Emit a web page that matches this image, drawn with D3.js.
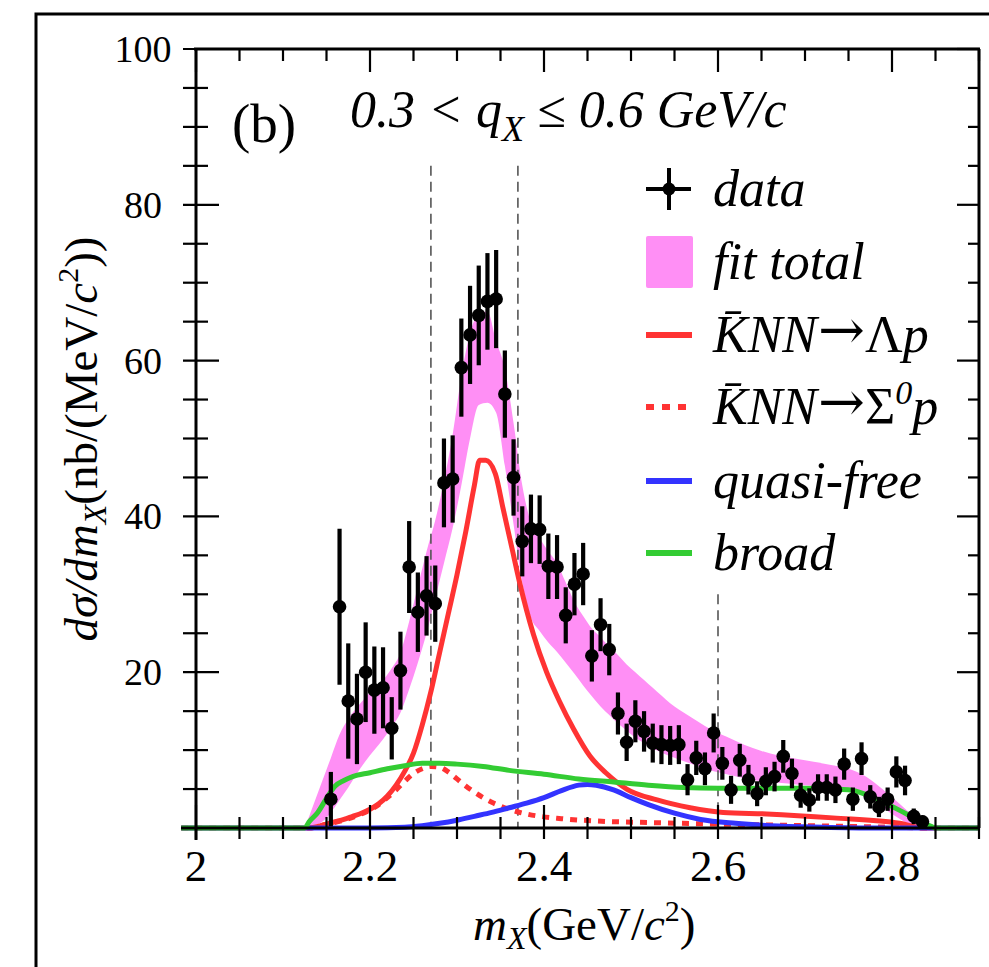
<!DOCTYPE html>
<html>
<head>
<meta charset="utf-8">
<script src="https://cdn.jsdelivr.net/npm/d3@7/dist/d3.min.js"></script>
<style>
  html, body { margin: 0; padding: 0; background: #fff; }
  svg { display: block; }
  text { font-family: "Liberation Serif", "Times New Roman", serif; fill: #000; }
</style>
</head>
<body>
<script>
// data points (bin centres, values, errors)
var dataX = [2.155, 2.165, 2.175, 2.185, 2.195, 2.205, 2.215, 2.225, 2.235, 2.245,
             2.255, 2.265, 2.275, 2.285, 2.295, 2.305, 2.315, 2.325, 2.335, 2.345,
             2.355, 2.365, 2.375, 2.385, 2.395, 2.405, 2.415, 2.425, 2.435, 2.445,
             2.455, 2.465, 2.475, 2.485, 2.495, 2.505, 2.515, 2.525, 2.535, 2.545,
             2.555, 2.565, 2.575, 2.585, 2.595, 2.605, 2.615, 2.625, 2.635, 2.645,
             2.655, 2.665, 2.675, 2.685, 2.695, 2.705, 2.715, 2.725, 2.735, 2.745,
             2.755, 2.765, 2.775, 2.785, 2.795, 2.805, 2.815, 2.825, 2.835];
var dataY = [3.7, 28.4, 16.3, 14.0, 20.0, 17.7, 18.0, 12.8, 20.2, 33.5,
             27.7, 29.8, 28.8, 44.3, 44.8, 59.1, 63.3, 65.8, 67.6, 67.9,
             55.7, 45.0, 36.8, 38.4, 38.3, 33.6, 33.5, 27.3, 31.3, 32.6,
             22.1, 26.1, 22.9, 14.7, 11.0, 13.7, 12.4, 10.9, 10.7, 10.6,
             10.7, 6.2, 9.0, 7.6, 12.2, 8.3, 4.9, 8.7, 6.2, 4.4,
             6.0, 6.6, 9.2, 7.0, 4.2, 3.6, 5.2, 5.2, 4.9, 8.2,
             3.7, 8.9, 4.0, 2.7, 3.7, 7.2, 6.1, 1.5, 0.8];
var dataErr = [3.5, 10.0, 7.4, 5.8, 6.4, 5.6, 5.2, 4.0, 5.0, 5.9,
               5.1, 5.1, 4.9, 5.7, 5.6, 6.3, 6.3, 6.4, 6.2, 6.3,
               5.6, 4.9, 4.5, 4.4, 4.4, 4.2, 4.1, 3.6, 4.0, 4.0,
               3.3, 3.4, 3.3, 2.7, 2.4, 2.7, 2.6, 2.5, 2.5, 2.5,
               2.5, 2.0, 2.2, 2.1, 2.5, 2.1, 1.8, 2.1, 1.9, 1.6,
               1.8, 1.9, 2.1, 1.9, 1.6, 1.5, 1.7, 1.7, 1.7, 2.0,
               1.5, 2.1, 1.5, 1.3, 1.5, 2.0, 1.9, 1.0, 0.8];

// fit total band
var bandX  = [2.125, 2.135, 2.145, 2.155, 2.165, 2.175, 2.185, 2.195, 2.205, 2.215,
              2.225, 2.235, 2.245, 2.255, 2.265, 2.275, 2.285, 2.295, 2.305, 2.315,
              2.325, 2.335, 2.345, 2.355, 2.365, 2.375, 2.385, 2.395, 2.405, 2.415,
              2.425, 2.435, 2.445, 2.455, 2.465, 2.475, 2.485, 2.495, 2.505, 2.515,
              2.525, 2.535, 2.545, 2.555, 2.565, 2.575, 2.585, 2.595, 2.61, 2.63,
              2.65, 2.67, 2.69, 2.71, 2.73, 2.75, 2.76, 2.77, 2.78, 2.79,
              2.8, 2.81, 2.82, 2.83, 2.84, 2.845];
var bandLo = [0, 0.3, 0.8, 2.0, 3.6, 5.2, 7.0, 8.6, 10.0, 11.4,
              13.0, 14.8, 17.8, 21.2, 25.0, 29.5, 34.0, 38.5, 44.0, 50.0,
              54.3, 54.6, 53.3, 46.5, 39.0, 31.5, 27.0, 25.3, 23.8, 22.6,
              21.2, 19.8, 18.3, 16.9, 15.6, 14.5, 13.4, 12.5, 11.6, 10.9,
              10.2, 9.7, 9.2, 8.8, 8.4, 8.0, 7.6, 7.3, 6.9, 6.4,
              6.0, 5.8, 5.6, 5.4, 5.2, 5.0, 4.7, 4.2, 3.4, 2.6,
              1.8, 1.1, 0.5, 0.2, 0, 0];
var bandHi = [0, 3.0, 6.0, 9.0, 12.0, 14.0, 15.5, 16.8, 18.0, 19.0,
              20.5, 22.5, 26.5, 31.0, 35.5, 39.5, 44.5, 50.5, 58.0, 63.5,
              66.0, 66.3, 62.5, 59.0, 52.0, 44.0, 39.2, 37.2, 35.5, 34.0,
              31.5, 29.0, 27.2, 25.6, 24.5, 23.3, 22.2, 21.0, 20.0, 19.0,
              18.0, 17.0, 16.0, 15.2, 14.5, 13.8, 13.1, 12.5, 11.7, 10.7,
              9.9, 9.3, 8.9, 8.5, 8.1, 7.6, 7.2, 6.6, 5.8, 4.9,
              3.9, 3.0, 2.0, 1.1, 0.4, 0];

// KNN -> Lambda p
var lamX = [1.983, 2.13, 2.14, 2.15, 2.16, 2.17, 2.18, 2.19, 2.2, 2.21,
            2.22, 2.23, 2.24, 2.25, 2.26, 2.27, 2.28, 2.29, 2.3, 2.31,
            2.32, 2.326, 2.333, 2.344, 2.353, 2.363, 2.372, 2.388, 2.403, 2.418,
            2.434, 2.453, 2.472, 2.495, 2.53, 2.568, 2.606, 2.656, 2.732, 2.809,
            2.835, 2.9];
var lamY = [0, 0, 0.2, 0.5, 0.8, 1.1, 1.5, 1.9, 2.4, 3.1,
            4.1, 5.5, 7.3, 9.6, 13.2, 17.5, 22.5, 27.5, 32.5, 38.0,
            44.0, 47.2, 47.2, 45.5, 41.0, 36.0, 31.5, 24.8, 20.0, 16.2,
            12.7, 9.2, 7.0, 5.0, 3.6, 2.6, 2.0, 1.8, 1.3, 0.6,
            0, 0];

// KNN -> Sigma0 p
var sigX = [1.983, 2.13, 2.15, 2.17, 2.19, 2.2, 2.21, 2.22, 2.23, 2.24,
            2.25, 2.26, 2.27, 2.28, 2.29, 2.3, 2.31, 2.32, 2.34, 2.36,
            2.38, 2.42, 2.46, 2.52, 2.6, 2.7, 2.8, 2.84, 2.9];
var sigY = [0, 0, 0.5, 1.0, 1.8, 2.3, 3.0, 3.9, 4.9, 6.0,
            7.0, 7.6, 7.9, 7.8, 7.2, 6.3, 5.4, 4.6, 3.3, 2.4,
            1.8, 1.2, 0.9, 0.7, 0.5, 0.3, 0.1, 0, 0];

// quasi-free
var qfX = [1.983, 2.2, 2.24, 2.26, 2.28, 2.3, 2.32, 2.34, 2.36, 2.38,
           2.4, 2.42, 2.44, 2.45, 2.46, 2.48, 2.5, 2.52, 2.55, 2.58,
           2.62, 2.66, 2.72, 2.78, 2.9];
var qfY = [0, 0, 0.1, 0.3, 0.6, 1.0, 1.5, 2.0, 2.6, 3.2,
           3.9, 4.8, 5.5, 5.6, 5.5, 4.9, 3.9, 3.0, 1.9, 1.1,
           0.6, 0.3, 0.1, 0, 0];

// broad
var brX = [1.983, 2.125, 2.13, 2.14, 2.15, 2.16, 2.17, 2.18, 2.2, 2.22,
           2.24, 2.26, 2.28, 2.3, 2.33, 2.36, 2.4, 2.44, 2.48, 2.52,
           2.56, 2.6, 2.65, 2.7, 2.75, 2.77, 2.79, 2.81, 2.83, 2.845,
           2.85, 2.9];
var brY = [0, 0, 0.8, 2.0, 3.8, 5.4, 6.1, 6.6, 7.1, 7.6,
           8.0, 8.3, 8.3, 8.2, 7.9, 7.4, 6.9, 6.3, 5.9, 5.5,
           5.2, 5.1, 5.1, 5.1, 4.9, 4.3, 3.3, 2.2, 1.0, 0.2,
           0, 0];

// dashed markers: x and top value
var markX = [2.27, 2.37, 2.6];
var markTop = [85, 85, 30];

var xMajor = [2, 2.2, 2.4, 2.6, 2.8];
var xLabels = ['2', '2.2', '2.4', '2.6', '2.8'];
var yMajor = [20, 40, 60, 80, 100];
var yLabels = ['20', '40', '60', '80', '100'];

var W = 989, H = 967;
var RED = '#ff3333', BLUE = '#3333ff', GREEN = '#33cc33', PINK = '#ff8ff5';

var x = d3.scaleLinear().domain([2.0, 2.9]).range([196, 979]);
var y = d3.scaleLinear().domain([0, 100]).range([828, 49]);

var svg = d3.select('body')
            .append('svg')
            .attr('width', W)
            .attr('height', H);

// outer figure border
svg.append('rect')
  .attr('x', 36).attr('y', 14)
  .attr('width', 1000).attr('height', 1000)
  .attr('fill', 'none')
  .attr('stroke', '#000')
  .attr('stroke-width', 3);

// fit total band
var band = d3.area()
  .x(i => x(bandX[i]))
  .y0(i => y(bandLo[i]))
  .y1(i => y(bandHi[i]))
  .curve(d3.curveMonotoneX);

svg.append('path')
  .attr('d', band(d3.range(bandX.length)))
  .attr('fill', PINK);

// vertical dashed markers
svg.selectAll('line.mark')
  .data(markX)
  .enter()
  .append('line')
    .attr('class', 'mark')
    .attr('x1', d => x(d)).attr('x2', d => x(d))
    .attr('y1', (d, i) => y(markTop[i]))
    .attr('y2', y(0))
    .attr('stroke', '#555')
    .attr('stroke-width', 1.6)
    .attr('stroke-dasharray', '10,6');

function drawCurve(xs, ys, color, dash) {
  var line = d3.line()
    .x(i => x(xs[i]))
    .y(i => y(ys[i]))
    .curve(d3.curveMonotoneX);
  var p = svg.append('path')
    .attr('d', line(d3.range(xs.length)))
    .attr('fill', 'none')
    .attr('stroke', color)
    .attr('stroke-width', 5)
    .attr('stroke-linejoin', 'round');
  if (dash) p.attr('stroke-dasharray', dash);
}

drawCurve(sigX, sigY, RED, '7,7');
drawCurve(lamX, lamY, RED);
drawCurve(qfX, qfY, BLUE);
drawCurve(brX, brY, GREEN);

// data points
var pts = svg.append('g');
pts.selectAll('line.ey')
  .data(dataX)
  .enter()
  .append('line')
    .attr('x1', d => x(d)).attr('x2', d => x(d))
    .attr('y1', (d, i) => y(Math.max(0, dataY[i] - dataErr[i])))
    .attr('y2', (d, i) => y(dataY[i] + dataErr[i]))
    .attr('stroke', '#000')
    .attr('stroke-width', 4.2);
pts.selectAll('line.ex')
  .data(dataX)
  .enter()
  .append('line')
    .attr('x1', d => x(d - 0.005)).attr('x2', d => x(d + 0.005))
    .attr('y1', (d, i) => y(dataY[i]))
    .attr('y2', (d, i) => y(dataY[i]))
    .attr('stroke', '#000')
    .attr('stroke-width', 4);
pts.selectAll('circle')
  .data(dataX)
  .enter()
  .append('circle')
    .attr('cx', d => x(d))
    .attr('cy', (d, i) => y(dataY[i]))
    .attr('r', 6.8)
    .attr('fill', '#000');

// frame and ticks
var ax = svg.append('g').attr('stroke', '#000').attr('stroke-width', 3);
ax.append('line').attr('x1', 181).attr('x2', 980).attr('y1', y(0)).attr('y2', y(0));
ax.append('line').attr('x1', 194).attr('x2', 980).attr('y1', y(100)).attr('y2', y(100));
ax.append('line').attr('x1', x(2)).attr('x2', x(2)).attr('y1', y(100)).attr('y2', y(0) + 12);
ax.append('line').attr('x1', 979).attr('x2', 979).attr('y1', y(100)).attr('y2', y(0));

var xMinor = d3.range(2.0, 2.91, 0.05);
var yMinor = d3.range(0, 101, 5);
var tk = svg.append('g').attr('stroke', '#000').attr('stroke-width', 2.2);

function isMajorX(d) { return xMajor.some(m => Math.abs(m - d) < 1e-6); }

tk.selectAll('line.xb')
  .data(xMinor)
  .enter()
  .append('line')
    .attr('x1', d => x(d)).attr('x2', d => x(d))
    .attr('y1', d => y(0) - (isMajorX(d) ? 23 : 11))
    .attr('y2', y(0) + 11);
tk.selectAll('line.xt')
  .data(xMinor)
  .enter()
  .append('line')
    .attr('x1', d => x(d)).attr('x2', d => x(d))
    .attr('y1', y(100))
    .attr('y2', d => y(100) + (isMajorX(d) ? 23 : 12));
tk.selectAll('line.yl')
  .data(yMinor)
  .enter()
  .append('line')
    .attr('y1', d => y(d)).attr('y2', d => y(d))
    .attr('x1', x(2) - 13)
    .attr('x2', d => x(2) + (d % 20 === 0 ? 23 : 12));
tk.selectAll('line.yr')
  .data(yMinor)
  .enter()
  .append('line')
    .attr('y1', d => y(d)).attr('y2', d => y(d))
    .attr('x1', d => 979 - (d % 20 === 0 ? 22 : 11))
    .attr('x2', 979);

// tick labels
svg.selectAll('text.xl')
  .data(xMajor)
  .enter()
  .append('text')
    .text((d, i) => xLabels[i])
    .attr('x', d => x(d))
    .attr('y', 881)
    .attr('text-anchor', 'middle')
    .attr('font-size', '45px');
svg.selectAll('text.yl')
  .data(yMajor)
  .enter()
  .append('text')
    .text((d, i) => yLabels[i])
    .attr('x', 143)
    .attr('y', d => y(d) + 13)
    .attr('text-anchor', 'middle')
    .attr('font-size', '38px');

// axis titles
var xt = svg.append('text').attr('x', 473).attr('y', 940).attr('font-size', '47px');
xt.append('tspan').text('m').attr('font-style', 'italic');
xt.append('tspan').text('X').attr('font-style', 'italic').attr('font-size', '32px').attr('dy', 9);
xt.append('tspan').text('(GeV/').attr('dy', -9);
xt.append('tspan').text('c').attr('font-style', 'italic');
xt.append('tspan').text('2').attr('font-size', '30px').attr('dy', -19);
xt.append('tspan').text(')').attr('dy', 19);

var yt = svg.append('text')
  .attr('transform', 'translate(97,439) rotate(-90)')
  .attr('text-anchor', 'middle')
  .attr('font-size', '47px');
yt.append('tspan').text('d\u03c3/dm').attr('font-style', 'italic');
yt.append('tspan').text('X').attr('font-style', 'italic').attr('font-size', '32px').attr('dy', 9);
yt.append('tspan').text('(nb/(MeV/').attr('dy', -9);
yt.append('tspan').text('c').attr('font-style', 'italic');
yt.append('tspan').text('2').attr('font-size', '30px').attr('dy', -19);
yt.append('tspan').text('))').attr('dy', 19);

// panel label and cut
svg.append('text').text('(b)').attr('x', 232).attr('y', 142).attr('font-size', '55px');
var ct = svg.append('text').attr('x', 350).attr('y', 127)
  .attr('font-size', '52px').attr('font-style', 'italic');
ct.append('tspan').text('0.3 < q');
ct.append('tspan').text('X').attr('font-size', '36px').attr('dy', 14);
ct.append('tspan').text(' \u2264 0.6 GeV/c').attr('dy', -14);

// legend
var legY = [189, 262, 335, 407, 481, 553];
var lg = svg.append('g');
lg.append('line').attr('x1', 646).attr('x2', 691).attr('y1', legY[0]).attr('y2', legY[0])
  .attr('stroke', '#000').attr('stroke-width', 4);
lg.append('line').attr('x1', 669).attr('x2', 669).attr('y1', legY[0] - 21).attr('y2', legY[0] + 21)
  .attr('stroke', '#000').attr('stroke-width', 4);
lg.append('circle').attr('cx', 669).attr('cy', legY[0]).attr('r', 6.5).attr('fill', '#000');
lg.append('rect').attr('x', 646).attr('y', legY[1] - 26).attr('width', 47).attr('height', 52)
  .attr('rx', 2).attr('fill', PINK);

var legLines = [
  {c: RED, dash: null},
  {c: RED, dash: '8,8'},
  {c: BLUE, dash: null},
  {c: GREEN, dash: null}
];
legLines.forEach((l, i) => {
  var ln = lg.append('line')
    .attr('x1', 646).attr('x2', 692)
    .attr('y1', legY[i + 2]).attr('y2', legY[i + 2])
    .attr('stroke', l.c).attr('stroke-width', 6);
  if (l.dash) ln.attr('stroke-dasharray', l.dash);
});

function legText(row) {
  return lg.append('text')
    .attr('x', 713).attr('y', legY[row] + 17)
    .attr('font-size', '52px')
    .attr('font-style', 'italic');
}
function arrow(t) {
  t.append('tspan').text('\u2192')
    .attr('font-family', '"DejaVu Serif", serif')
    .attr('font-style', 'normal')
    .attr('font-size', '56px')
    .attr('dx', 1)
    .attr('dy', -3);
}
legText(0).text('data');
legText(1).text('fit total');
var l2 = legText(2);
l2.append('tspan').text('K\u0304NN');
arrow(l2);
l2.append('tspan').text('\u039b').attr('font-style', 'normal').attr('dy', 3);
l2.append('tspan').text('p');
var l3 = legText(3);
l3.append('tspan').text('K\u0304NN');
arrow(l3);
l3.append('tspan').text('\u03a3').attr('font-style', 'normal').attr('dy', 3);
l3.append('tspan').text('0').attr('font-size', '34px').attr('dy', -20);
l3.append('tspan').text('p').attr('dy', 20);
legText(4).text('quasi-free');
legText(5).text('broad');
</script>
</body>
</html>
